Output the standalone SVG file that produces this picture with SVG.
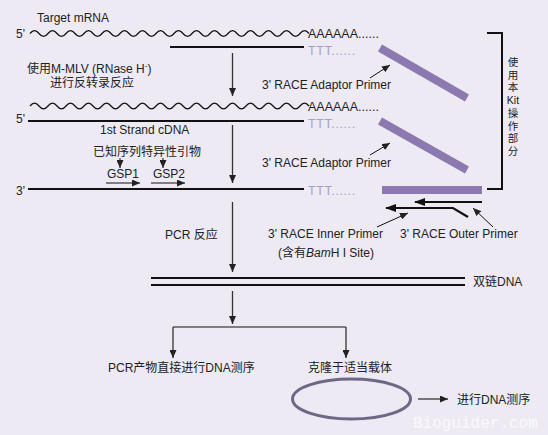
<svg xmlns="http://www.w3.org/2000/svg" width="548" height="435" viewBox="0 0 548 435">
<defs>
<style>
text{font-family:"Liberation Sans","Noto Sans CJK SC",sans-serif;font-size:12px;fill:#222}
.ttt{fill:#A79FC4;font-size:12.5px;letter-spacing:0.6px}
.aaa{font-size:12.5px}
.vt{font-size:10.5px;text-anchor:middle}
.wave{fill:none;stroke:#111;stroke-width:1.2}
.strand{fill:none;stroke:#111;stroke-width:2}
.arr{fill:none;stroke:#333;stroke-width:1.3}
.thin{fill:none;stroke:#111;stroke-width:1}
.pr{fill:none;stroke:#111;stroke-width:2.2}
.bar{stroke:#8B79B0;stroke-width:8;fill:none}
</style>
<marker id="ah" markerUnits="userSpaceOnUse" markerWidth="8" markerHeight="7" refX="8" refY="3.5" orient="auto">
<path d="M0,0 L8,3.5 L0,7 z" fill="#222"/>
</marker>
<marker id="ah2" markerUnits="userSpaceOnUse" markerWidth="11" markerHeight="8" refX="10" refY="4" orient="auto">
<path d="M0,0 L11,4 L0,8 z" fill="#111"/>
</marker>
</defs>
<rect width="548" height="435" fill="#EDEAF3"/>

<g id="mrna">
<text x="37" y="22">Target mRNA</text>
<text x="16" y="38">5'</text>
<path class="wave" d="M30,33.5 q4.5,-5.6 9,0 t9,0 t9,0 t9,0 t9,0 t9,0 t9,0 t9,0 t9,0 t9,0 t9,0 t9,0 t9,0 t9,0 t9,0 t9,0 t9,0 t9,0 t9,0 t9,0 t9,0 t9,0 t9,0 t9,0 t9,0 t9,0 t9,0 t9,0 t9,0 t9,0 t9,0"/>
<text class="aaa" x="308" y="38">AAAAAA......</text>
<line class="strand" x1="170" y1="47" x2="304" y2="47"/>
<text class="ttt" x="308" y="55">TTT......</text>
</g>

<g id="rt-label">
<text x="27" y="73">使用M-MLV (RNase H<tspan font-size="8" dy="-5">-</tspan><tspan dy="5">)</tspan></text>
<text x="50" y="87">进行反转录反应</text>
</g>

<g id="cdna">
<text x="16" y="123">5'</text>
<path class="wave" d="M30,106 q4.5,-5.6 9,0 t9,0 t9,0 t9,0 t9,0 t9,0 t9,0 t9,0 t9,0 t9,0 t9,0 t9,0 t9,0 t9,0 t9,0 t9,0 t9,0 t9,0 t9,0 t9,0 t9,0 t9,0 t9,0 t9,0 t9,0 t9,0 t9,0 t9,0 t9,0 t9,0 t9,0"/>
<text class="aaa" x="308" y="111">AAAAAA......</text>
<line class="strand" x1="28" y1="121" x2="304" y2="121"/>
<text class="ttt" x="308" y="128">TTT......</text>
<text x="100" y="134">1st Strand cDNA</text>
</g>

<g id="gsp">
<text x="93" y="156">已知序列特异性引物</text>
<text x="107" y="178">GSP1</text>
<text x="153" y="178">GSP2</text>
<line class="thin" x1="120" y1="158" x2="120" y2="168" marker-end="url(#ah)"/>
<line class="thin" x1="163" y1="158" x2="163" y2="168" marker-end="url(#ah)"/>
<line class="thin" x1="106" y1="183" x2="140" y2="183" marker-end="url(#ah)"/>
<line class="thin" x1="151" y1="183" x2="185" y2="183" marker-end="url(#ah)"/>
</g>

<g id="strand3">
<text x="16" y="195">3'</text>
<line class="strand" x1="28" y1="189" x2="304" y2="189"/>
<text class="ttt" x="308" y="195">TTT......</text>
</g>

<g id="adaptor1">
<line class="bar" x1="380" y1="48" x2="467" y2="98"/>
<text x="262" y="89">3' RACE Adaptor Primer</text>
<line class="thin" x1="370" y1="78" x2="390" y2="65" marker-end="url(#ah)"/>
</g>

<g id="adaptor2">
<line class="bar" x1="380" y1="121" x2="467" y2="170"/>
<text x="262" y="167">3' RACE Adaptor Primer</text>
<line class="thin" x1="370" y1="155" x2="390" y2="143" marker-end="url(#ah)"/>
</g>

<g id="adaptor3">
<rect x="382" y="186" width="100" height="8" fill="#8B79B0"/>
</g>

<g id="outer-primer">
<line class="pr" x1="482" y1="202" x2="415" y2="202" marker-end="url(#ah2)"/>
<text x="400" y="238">3' RACE Outer Primer</text>
<line class="thin" x1="493" y1="227" x2="473" y2="208" marker-end="url(#ah)"/>
</g>

<g id="inner-primer">
<polyline class="pr" points="468,217 453,208 386,208" marker-end="url(#ah2)"/>
<text x="268" y="238">3' RACE Inner Primer</text>
<text x="278" y="257">(含有<tspan font-style="italic">Bam</tspan>H I Site)</text>
<line class="thin" x1="377" y1="227" x2="408" y2="213" marker-end="url(#ah)"/>
</g>

<g id="kit">
<path d="M487,33 H502 V189 H487" fill="none" stroke="#111" stroke-width="2"/>
<text class="vt" x="513" y="66">使</text>
<text class="vt" x="513" y="78.5">用</text>
<text class="vt" x="513" y="91">本</text>
<text class="vt" x="513" y="104">Kit</text>
<text class="vt" x="513" y="117">操</text>
<text class="vt" x="513" y="129.5">作</text>
<text class="vt" x="513" y="142">部</text>
<text class="vt" x="513" y="154.5">分</text>
</g>

<g id="pcr-label">
<text x="165" y="239">PCR  反应</text>
</g>

<g id="dsdna">
<line class="strand" x1="151" y1="278" x2="465" y2="278"/>
<line class="strand" x1="151" y1="285" x2="465" y2="285"/>
<text x="473" y="286">双链DNA</text>
</g>

<g id="seq-direct">
<text x="108" y="372">PCR产物直接进行DNA测序</text>
</g>

<g id="clone">
<text x="308" y="372">克隆于适当载体</text>
<ellipse cx="351.5" cy="399" rx="59" ry="20" fill="none" stroke="#6F6785" stroke-width="3"/>
</g>

<g id="seq-clone">
<text x="457" y="404">进行DNA测序</text>
</g>

<g id="connectors">
<line class="arr" x1="232.5" y1="53" x2="232.5" y2="96" marker-end="url(#ah)"/>
<line class="arr" x1="232.5" y1="125" x2="232.5" y2="183" marker-end="url(#ah)"/>
<line class="arr" x1="232.5" y1="202" x2="232.5" y2="272" marker-end="url(#ah)"/>
<line class="arr" x1="232.5" y1="291" x2="232.5" y2="324" marker-end="url(#ah)"/>
<path class="thin" d="M173,327 H346"/>
<line class="arr" x1="173" y1="327" x2="173" y2="358" marker-end="url(#ah)"/>
<line class="arr" x1="346" y1="327" x2="346" y2="358" marker-end="url(#ah)"/>
<line class="arr" x1="418" y1="399" x2="448" y2="399" marker-end="url(#ah)"/>
</g>

<text x="413" y="428" style="font-family:'Liberation Mono',monospace;font-size:16px;fill:#FAFAFD">Bioguider.com</text>
</svg>
